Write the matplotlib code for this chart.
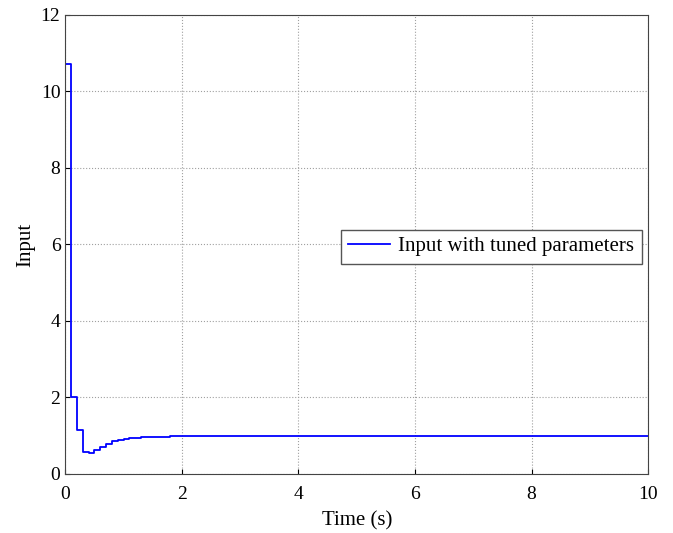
import matplotlib

matplotlib.use("Agg")
import matplotlib.pyplot as plt
import numpy as np

plt.rcParams["font.family"] = ["Liberation Serif", "DejaVu Serif"]

# sampled controller input (zero-order hold, Ts = 0.1 s)
t = [0.0, 0.1, 0.2, 0.3, 0.4, 0.5, 0.6, 0.7, 0.8, 0.9, 1.0, 1.1, 1.3,
     1.5, 1.8, 10.0]
u = [10.72, 2.0, 1.15, 0.58, 0.54, 0.63, 0.71, 0.79, 0.85, 0.89, 0.92,
     0.94, 0.96, 0.975, 1.0, 1.0]
label = "Input with tuned parameters"

fig = plt.figure(figsize=(6.73, 5.33), dpi=100)
ax = fig.add_axes([0.097, 0.111, 0.866, 0.861])
ax.plot(t, u, drawstyle="steps-post", color="#0000ff", lw=1.3, label=label)
ax.set_xlim(0, 10)
ax.set_ylim(0, 12)
ax.set_xticks(np.arange(0, 11, 2))
ax.set_yticks(np.arange(0, 13, 2))
ax.grid(True, linestyle=":", color="#a0a0a0", lw=0.8)
ax.tick_params(labelsize=14, direction="in")
ax.tick_params(axis="x", pad=9)
ax.set_xlabel("Time (s)", fontsize=15, labelpad=6)
ax.set_ylabel("Input", fontsize=15, labelpad=4)
ax.legend(loc="center right", bbox_to_anchor=(1.007, 0.495), fontsize=15,
          fancybox=False, framealpha=1, edgecolor="#555555", borderpad=0.35,
          handlelength=2.0, handletextpad=0.4)
for s in ax.spines.values():
    s.set_color("#444444")
fig.savefig("out.png", dpi=100)
